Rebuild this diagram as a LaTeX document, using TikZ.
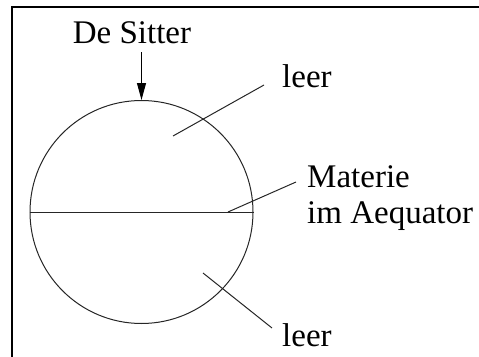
\documentclass[tikz,border=0pt]{standalone}
\usepackage{fontspec}
\setmainfont{Liberation Serif}
\usetikzlibrary{arrows.meta}
\begin{document}
\begin{tikzpicture}[x=1pt,y=-1pt,
  lbl/.style={inner sep=0pt, font=\fontsize{33}{36}\selectfont},
  thin line/.style={line width=1pt, draw=black!85}]
\useasboundingbox (0,0) rectangle (479,356);
% frame (top and left visible)
\draw[line width=2.2pt] (12,360) -- (12,6.7) -- (482,6.7);
% sphere
\node[circle, draw=black!85, line width=1pt, minimum size=223pt, inner sep=0pt] (globe) at (141.5,212) {};
\draw[thin line] (globe.west) -- (globe.east);
% labels
\node[lbl, anchor=base] (ds) at (132,43) {De Sitter};
\node[lbl, anchor=base west] (leer1) at (282,87) {leer};
\node[lbl, anchor=base west] (mat1) at (307,187) {Materie};
\node[lbl, anchor=base west] (mat2) at (307,223) {im Aequator};
\node[lbl, anchor=base west] (leer2) at (282,346) {leer};
% arrow
\coordinate (arrs) at (141.5,52);
\draw[line width=1pt, -{Triangle[length=17pt,width=9pt]}] (arrs) -- (globe.north);
% leaders
\coordinate (l1a) at (173,136);
\coordinate (l1b) at (264,85);
\coordinate (l2a) at (228,212);
\coordinate (l2b) at (296,182);
\coordinate (l3a) at (203,273);
\coordinate (l3b) at (272,328);
\draw[thin line] (l1a) -- (l1b);
\draw[thin line] (l2a) -- (l2b);
\draw[thin line] (l3a) -- (l3b);
\end{tikzpicture}
\end{document}
